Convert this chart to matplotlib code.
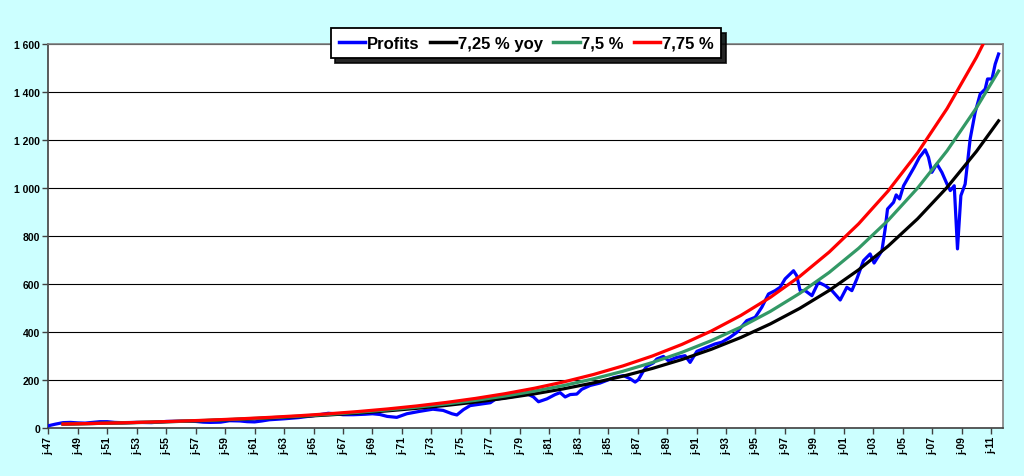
import matplotlib

matplotlib.use("Agg")

import matplotlib.pyplot as plt

# quarterly-ish readings of the profits series (year, level)
profit_years = [
    1947.0, 1947.5, 1948.0, 1948.5, 1949.0, 1949.5, 1950.0, 1950.5, 1951.0, 1951.5,
    1952.0, 1953.0, 1954.0, 1955.0, 1956.0, 1957.0, 1957.5, 1958.0, 1958.7, 1959.3,
    1960.0, 1960.5, 1961.0, 1961.5, 1962.0, 1963.0, 1964.0, 1965.0, 1966.0, 1966.5,
    1967.0, 1967.7, 1968.5, 1969.0, 1969.5, 1970.0, 1970.65, 1971.33, 1972.2, 1973.1,
    1973.8, 1974.4, 1974.73, 1975.17, 1975.63, 1976.3, 1977.0, 1977.33, 1978.57, 1979.48,
    1979.93, 1980.27, 1980.84, 1981.4, 1981.74, 1982.08, 1982.42, 1982.87, 1983.21, 1983.78,
    1984.45, 1985.36, 1986.04, 1986.49, 1986.83, 1987.05, 1987.39, 1987.62, 1988.07, 1988.3,
    1988.75, 1989.09, 1989.66, 1990.22, 1990.56, 1991.02, 1991.7, 1992.26, 1992.71, 1993.28,
    1993.73, 1994.41, 1994.98, 1995.43, 1995.88, 1996.33, 1996.67, 1997.01, 1997.58, 1997.8,
    1998.03, 1998.37, 1998.83, 1999.27, 1999.73, 2000.19, 2000.75, 2001.2, 2001.54, 2001.88,
    2002.33, 2002.78, 2003.05, 2003.58, 2003.8, 2003.96, 2004.37, 2004.55, 2004.78, 2005.05,
    2005.38, 2005.77, 2006.13, 2006.3, 2006.52, 2006.74, 2006.97, 2007.31, 2007.65, 2008.0,
    2008.22, 2008.49, 2008.71, 2008.94, 2009.23, 2009.57, 2009.91, 2010.25, 2010.59, 2010.75,
    2011.05, 2011.27, 2011.5,
]
profit_values = [
    8, 15, 21, 22, 20, 19, 22, 25, 25, 22,
    21, 22, 21, 26, 27, 26, 23, 22, 23, 29,
    28, 25, 24, 28, 33, 37, 42, 50, 60, 58,
    54, 54, 56, 58, 55, 47, 43, 58, 68, 77,
    72, 58, 53, 75, 92, 98, 104, 118, 130, 142,
    128, 108, 120, 138, 146, 128, 138, 140, 160, 176,
    186, 208, 217, 204, 190, 200, 236, 256, 270, 286,
    297, 279, 293, 300, 272, 318, 335, 349, 356, 377,
    397, 446, 460, 502, 557, 571, 585, 620, 654, 633,
    571, 571, 550, 606, 592, 571, 532, 585, 571, 620,
    696, 724, 686, 737, 828, 911, 939, 970, 953, 1008,
    1043, 1085, 1127, 1140, 1158, 1127, 1064, 1099, 1064, 1015,
    988, 1008, 745, 967, 1015, 1203, 1314, 1390, 1411, 1453,
    1453, 1515, 1557,
]

# growth-path readings, every two years
trend_years = [
    1948, 1950, 1952, 1954, 1956, 1958, 1960, 1962, 1964, 1966, 1968,
    1970, 1972, 1974, 1976, 1978, 1980, 1982, 1984, 1986, 1988, 1990,
    1992, 1994, 1996, 1998, 2000, 2002, 2004, 2006, 2008, 2010, 2011.5,
]
trend_725 = [
    15.0, 17.3, 19.9, 22.9, 26.3, 30.2, 34.8, 40.0, 46.0, 52.9, 60.9,
    70.0, 80.6, 92.7, 106.6, 122.6, 141.0, 162.2, 186.6, 214.6, 246.9, 284.0,
    326.6, 375.7, 432.2, 497.1, 571.8, 657.8, 756.6, 870.3, 1001.1, 1151.5, 1278.6,
]
trend_750 = [
    15.1, 17.4, 20.1, 23.2, 26.8, 31.0, 35.8, 41.4, 47.9, 55.3, 63.9,
    73.9, 85.4, 98.7, 114.0, 131.8, 152.3, 176.0, 203.4, 235.0, 271.6, 313.8,
    362.7, 419.1, 484.3, 559.7, 646.8, 747.5, 863.8, 998.2, 1153.6, 1333.1, 1485.9,
]
trend_775 = [
    15.1, 17.5, 20.3, 23.6, 27.4, 31.8, 36.9, 42.9, 49.8, 57.8, 67.1,
    77.9, 90.5, 105.1, 122.0, 141.6, 164.4, 190.9, 221.6, 257.3, 298.7, 346.8,
    402.7, 467.5, 542.8, 630.2, 731.7, 849.5, 986.3, 1145.1, 1329.4, 1543.5, 1726.4,
]

tick_years = [
    1947, 1949, 1951, 1953, 1955, 1957, 1959, 1961, 1963, 1965, 1967,
    1969, 1971, 1973, 1975, 1977, 1979, 1981, 1983, 1985, 1987, 1989,
    1991, 1993, 1995, 1997, 1999, 2001, 2003, 2005, 2007, 2009, 2011,
]
tick_labels = [
    "j-47", "j-49", "j-51", "j-53", "j-55", "j-57", "j-59", "j-61", "j-63", "j-65", "j-67",
    "j-69", "j-71", "j-73", "j-75", "j-77", "j-79", "j-81", "j-83", "j-85", "j-87", "j-89",
    "j-91", "j-93", "j-95", "j-97", "j-99", "j-01", "j-03", "j-05", "j-07", "j-09", "j-11",
]
y_ticks = [0, 200, 400, 600, 800, 1000, 1200, 1400, 1600]
y_labels = ["0", "200", "400", "600", "800", "1 000", "1 200", "1 400", "1 600"]

plt.rcParams["font.family"] = ["Liberation Sans", "DejaVu Sans"]

fig = plt.figure(figsize=(10.24, 4.77), dpi=100, facecolor="#ccffff")
ax = fig.add_axes([0.0472, 0.1013, 0.9323, 0.805])
ax.set_facecolor("white")

lw = 2.3
ax.plot(profit_years, profit_values, color="#0000ff", linewidth=lw, label="Profits", zorder=3)
ax.plot(trend_years, trend_725, color="black", linewidth=lw, label="7,25 % yoy", zorder=4)
ax.plot(trend_years, trend_750, color="#339966", linewidth=lw, label="7,5 %", zorder=5)
ax.plot(trend_years, trend_775, color="#ff0000", linewidth=lw, label="7,75 %", zorder=6)

ax.set_xlim(1947, 2011.8)
ax.set_ylim(0, 1600)
ax.set_yticks(y_ticks)
ax.set_yticklabels(y_labels, fontsize=7.5, fontweight="bold")
ax.set_xticks(tick_years)
ax.set_xticklabels(tick_labels, rotation=90, fontsize=7.5, fontweight="bold")
ax.tick_params(axis="both", direction="out", length=4, width=1, color="#404040", pad=2)
ax.yaxis.grid(True, color="black", linewidth=0.8)
ax.set_axisbelow(True)

for name, spine in ax.spines.items():
    spine.set_color("#808080")
    spine.set_linewidth(1.2)
ax.spines["left"].set_color("#404040")
ax.spines["bottom"].set_color("#404040")

leg = fig.legend(
    loc="center", bbox_to_anchor=(0.514, 0.907), ncol=4, frameon=True,
    fancybox=False, edgecolor="black", facecolor="white", framealpha=1,
    prop={"size": 12, "weight": "bold"}, handlelength=1.6, handletextpad=0.1,
    columnspacing=0.6, borderpad=0.45,
    shadow={"color": "black", "alpha": 0.85, "ox": 3, "oy": -3},
)
leg.get_frame().set_linewidth(1.3)
for line in leg.get_lines():
    line.set_linewidth(2.5)

fig.savefig("out.png", dpi=100, facecolor=fig.get_facecolor())
plt.close(fig)
